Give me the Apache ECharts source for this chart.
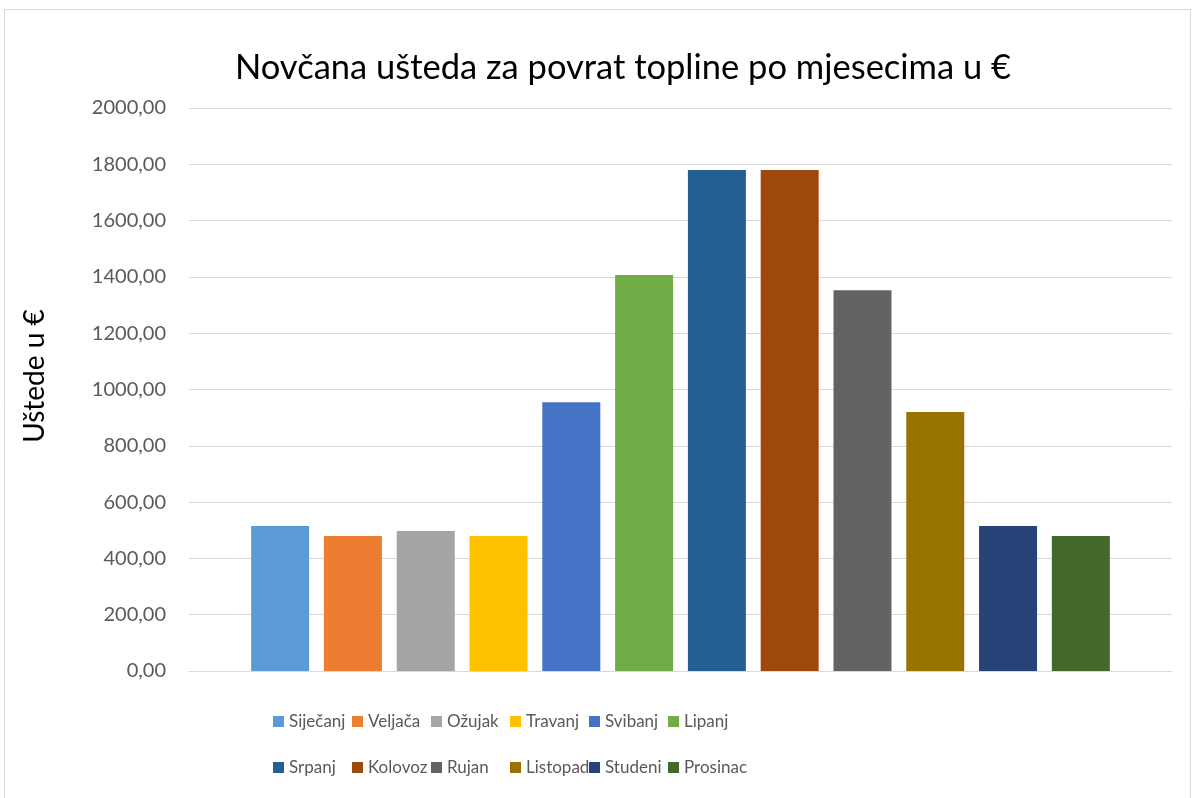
<!DOCTYPE html>
<html>
<head>
<meta charset="utf-8">
<script src="https://cdn.jsdelivr.net/npm/echarts@6/dist/echarts.min.js"></script>
<style>html,body{margin:0;padding:0;background:#fff}#c{width:1196px;height:798px}</style>
</head>
<body>
<div id="c"></div>
<script>
const titleText = 'Novčana ušteda za povrat topline po mjesecima u €';
const yAxisName = 'Uštede u €';
const categories = [''];
const months = ['Siječanj','Veljača','Ožujak','Travanj','Svibanj','Lipanj','Srpanj','Kolovoz','Rujan','Listopad','Studeni','Prosinac'];
const values = [515, 480, 497, 480, 955, 1407, 1780, 1780, 1353, 920, 515, 480];
const colors = ['#5B9BD5','#ED7D31','#A5A5A5','#FFC000','#4472C4','#70AD47','#255E91','#9E480E','#636363','#997300','#264478','#43682B'];

const chart = echarts.init(document.getElementById('c'), null, {renderer:'canvas'});
const font = 'Lato, "Open Sans", sans-serif';
const series = months.map((m, i) => ({
  name: m,
  type: 'bar',
  data: [values[i]],
  barWidth: 58,
  barGap: '25.5%',
  itemStyle: { color: colors[i] },
  emphasis: { disabled: true }
}));
const legends = months.map((m, i) => ({
  orient: 'horizontal',
  icon: 'rect',
  itemWidth: 11,
  itemHeight: 11,
  itemGap: 5,
  padding: 0,
  textStyle: { fontFamily: font, fontSize: 17, color: '#595959' },
  left: 273 + (i % 6) * 79,
  top: i < 6 ? 713 : 759,
  data: [m]
}));
chart.setOption({
  animation: false,
  backgroundColor: '#fff',
  color: colors,
  graphic: [
    { type: 'rect', shape: { x: 4.5, y: 9.5, width: 1186, height: 800 }, style: { fill: 'none', stroke: '#d9d9d9', lineWidth: 1 }, silent: true },
    { type: 'text', x: 35, y: 376, rotation: Math.PI / 2, silent: true,
      style: { text: yAxisName, fontFamily: font, fontSize: 28, fill: '#000', align: 'center', verticalAlign: 'middle' } }
  ],
  title: {
    text: titleText,
    left: 618, top: 45, textAlign: 'center',
    textStyle: { fontFamily: font, fontSize: 34.5, fontWeight: 'normal', color: '#000' }
  },
  legend: legends,
  grid: { left: 189, right: 24, top: 108, bottom: 127, containLabel: false },
  xAxis: {
    type: 'category', data: categories,
    axisLine: { show: true, lineStyle: { color: '#d9d9d9', width: 1 } },
    axisTick: { show: false }, axisLabel: { show: false }
  },
  yAxis: {
    type: 'value', min: 0, max: 2000, interval: 200,
    axisLine: { show: false }, axisTick: { show: false },
    axisLabel: { fontFamily: font, fontSize: 20, color: '#595959', margin: 23,
      formatter: v => v.toFixed(2).replace('.', ',') },
    splitLine: { lineStyle: { color: '#d9d9d9', width: 1 } }
  },
  series: series
});
</script>
</body>
</html>
